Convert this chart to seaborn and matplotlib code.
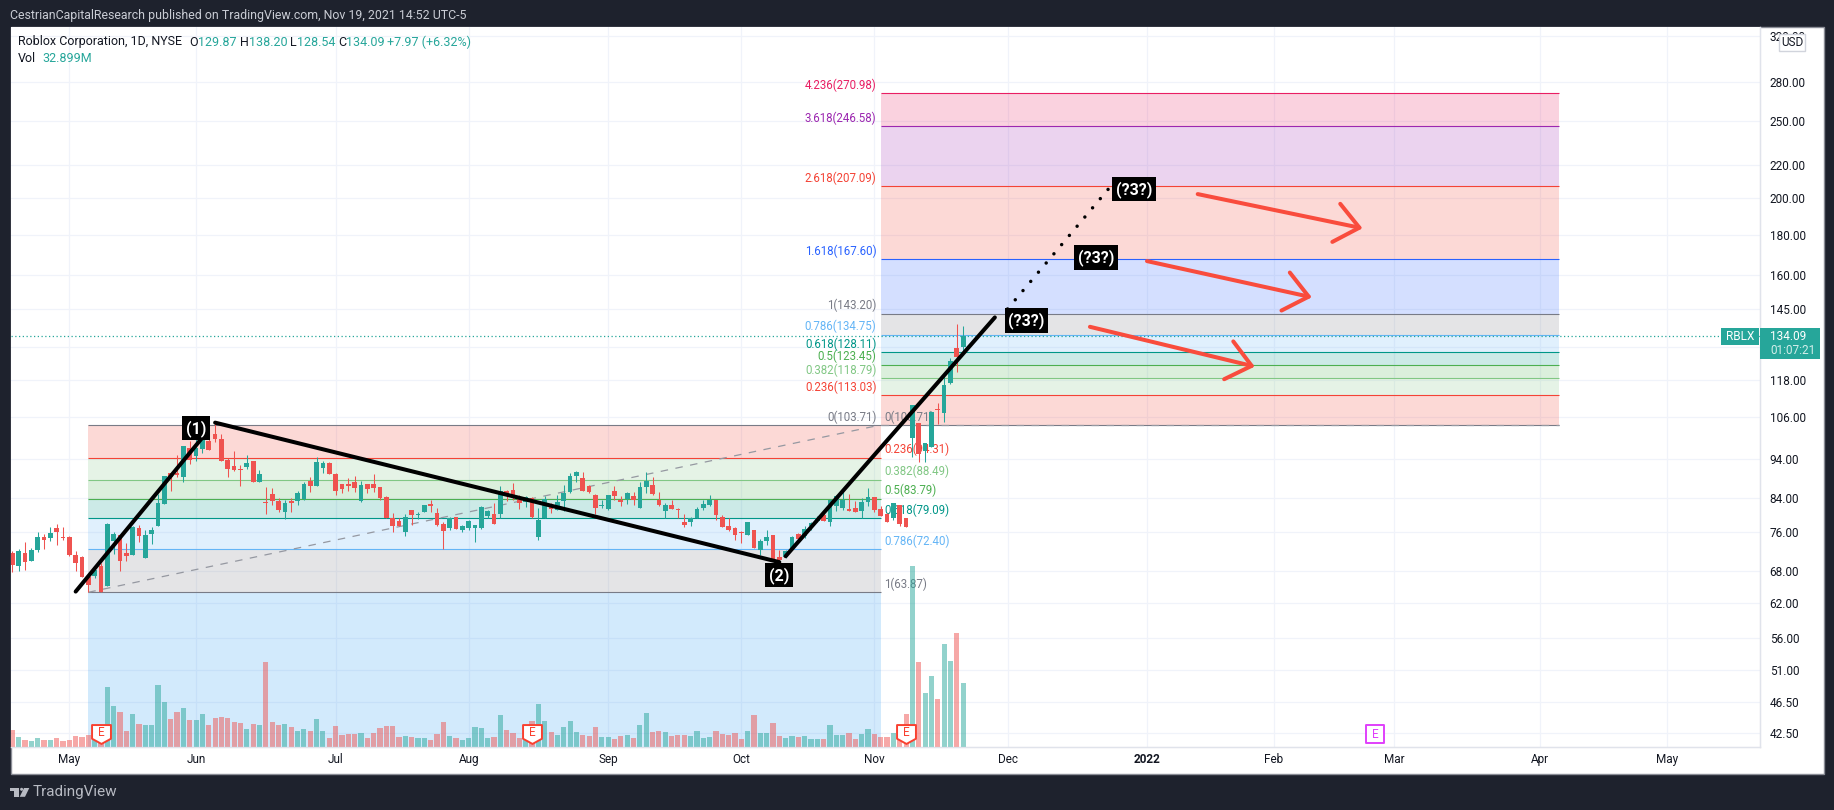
# %%
import numpy as np
import pandas as pd
import seaborn as sns
import matplotlib.pyplot as plt
from matplotlib.patches import Rectangle, Circle, Polygon
from matplotlib.path import Path
from matplotlib.ticker import NullLocator

sns.set_theme(style="white")
plt.rcParams["font.family"] = ["Roboto", "DejaVu Sans"]

# %% daily candles, bar 0 is May 3 2021
first_bar = -9
opens = [71.6,68.9,71.6,70.0,72.1,75.0,74.8,77.0,75.0,
    75.0,71.2,70.7,66.7,67.0,69.0,65.0,74.2,75.5,71.5,
    71.1,77.0,70.5,75.7,77.4,82.5,90.1,90.1,89.2,97.1,
    94.9,96.8,98.9,101.0,99.6,93.7,92.1,91.3,91.9,93.4,
    87.8,83.0,85.0,83.2,80.7,83.3,83.3,83.6,88.2,87.0,
    91.6,92.9,89.9,87.4,87.4,87.9,83.3,87.4,87.4,86.6,
    84.2,79.3,78.6,76.0,81.0,79.8,80.6,82.5,80.3,77.9,
    77.0,79.4,76.4,77.0,77.0,77.0,79.7,80.1,80.1,85.7,
    85.9,84.1,82.9,83.9,75.0,79.2,81.7,81.1,83.1,85.3,
    89.5,88.9,87.0,84.7,81.9,81.2,85.6,83.5,83.8,84.5,
    81.6,86.6,87.2,83.5,80.9,82.3,81.4,78.3,78.3,79.2,
    81.6,82.2,83.5,79.4,77.4,76.9,76.0,75.5,76.4,72.1,
    74.2,75.3,70.8,70.7,72.2,75.7,75.1,77.4,78.6,79.8,
    78.2,81.9,81.6,81.3,81.6,80.9,82.9,84.1,81.3,80.1,
    79.3,82.2,79.2,99.8,104.2,96.1,97.4,108.6,107.3,117.2,
    129.5,129.87]
highs = [72.0,72.3,73.9,72.6,76.1,75.6,77.2,77.9,77.2,
    75.2,71.9,70.9,67.2,68.5,69.5,78.0,76.1,75.5,73.7,
    77.3,77.7,76.6,77.2,84.9,89.5,90.3,95.0,97.6,99.1,
    100.0,103.4,102.2,104.4,101.0,94.1,96.1,92.3,95.0,93.4,
    91.0,86.6,86.4,83.9,83.5,83.9,85.6,87.9,89.1,94.4,
    93.4,93.2,90.1,87.4,88.9,89.5,88.1,87.4,89.9,86.6,
    84.5,80.3,79.2,80.1,81.1,80.7,82.3,83.5,81.5,78.4,
    79.4,79.4,77.7,78.8,77.7,82.1,81.1,82.7,86.9,85.9,
    87.6,84.7,84.5,84.1,81.5,84.5,82.7,84.6,87.1,90.1,
    90.8,90.6,87.1,84.8,83.5,84.7,86.9,84.3,85.5,85.3,
    87.8,90.4,89.3,85.4,82.7,83.5,81.6,80.1,79.4,81.7,
    83.5,84.7,83.5,79.8,79.2,77.2,76.2,78.2,76.6,74.6,
    76.6,75.5,72.1,72.1,75.1,75.9,77.3,78.4,79.6,80.3,
    83.7,84.7,85.5,85.0,83.2,83.9,86.3,84.2,82.1,80.3,
    82.7,82.3,79.2,109.9,104.4,98.3,108.1,110.4,120.4,125.8,
    138.9,138.2]
lows = [67.7,67.9,68.1,69.9,71.7,72.5,74.0,73.2,74.3,
    70.9,67.9,66.7,63.9,66.5,63.9,65.0,71.4,67.9,69.9,
    71.1,73.8,70.5,73.4,77.4,82.5,85.6,89.1,87.8,92.7,
    93.4,95.7,96.4,98.8,93.5,89.2,90.8,87.0,91.4,87.8,
    87.8,80.2,82.3,80.5,79.0,80.7,82.3,83.5,85.3,87.0,
    90.1,89.9,84.6,85.1,85.7,85.5,83.0,85.1,85.3,83.5,
    79.2,76.0,77.3,75.1,77.7,79.0,80.5,80.7,77.4,72.3,
    76.4,76.8,76.1,76.4,73.8,76.8,79.2,77.9,79.2,83.1,
    83.5,81.3,81.7,79.2,74.3,79.1,80.3,81.1,80.9,85.1,
    88.0,85.6,85.1,80.1,81.5,81.1,83.5,81.9,82.5,82.3,
    81.6,85.1,84.6,81.9,79.2,81.3,79.2,77.1,77.3,79.1,
    81.1,82.1,78.8,77.1,76.2,74.4,73.6,75.3,72.6,71.2,
    73.3,70.2,69.9,70.5,72.1,74.4,74.8,76.6,78.2,78.6,
    77.3,80.9,81.1,80.9,80.7,79.2,81.9,80.7,79.6,78.4,
    78.8,77.3,77.1,94.6,93.2,93.2,97.2,103.9,104.5,116.8,
    121.0,128.54]
closes = [69.2,72.0,69.8,72.1,75.0,74.4,75.9,76.1,74.7,
    71.1,69.6,66.7,65.2,68.2,64.0,77.9,75.7,69.9,71.0,
    77.2,75.1,75.5,76.6,82.8,89.5,89.2,89.8,97.6,93.8,
    97.0,100.0,96.4,99.5,93.5,91.4,91.0,91.1,92.8,87.8,
    89.9,82.6,83.1,81.1,82.8,82.6,85.2,87.4,87.0,93.2,
    92.8,90.0,85.7,86.1,86.9,86.5,87.2,86.1,86.5,83.9,
    79.3,77.3,77.5,79.5,79.9,80.1,82.2,81.9,77.7,76.2,
    79.1,76.8,77.3,78.5,77.6,81.8,80.9,77.9,85.6,84.3,
    84.6,82.7,84.1,79.5,78.8,83.7,81.3,82.9,85.2,89.5,
    90.4,85.7,85.4,81.6,82.3,84.7,84.3,82.9,85.1,83.5,
    86.6,88.1,84.8,82.3,82.3,81.4,81.1,77.7,79.1,81.3,
    82.5,83.5,79.9,77.1,76.4,75.5,75.8,78.2,72.6,74.0,
    75.0,70.4,70.2,71.9,75.0,74.5,76.8,78.0,79.3,78.6,
    83.5,84.3,83.5,80.9,80.7,83.0,84.2,81.1,79.6,78.4,
    82.6,77.9,77.1,109.9,95.2,98.3,107.7,108.2,116.4,124.8,
    126.12,134.09]
volumes = [8.9,5.3,3.8,3.2,4.8,3.8,3.8,4.8,3.2,
    3.8,5.8,5.3,6.3,3.8,4.6,30.9,21.1,18.1,8.4,
    17.1,11.9,11.4,11.4,31.9,23.2,14.5,18.1,20.1,14.0,
    14.0,17.1,11.4,15.0,15.5,15.0,13.0,12.4,9.4,11.9,
    11.4,43.6,13.0,11.4,11.9,10.4,8.4,9.4,8.4,14.5,
    8.4,4.8,10.9,6.3,6.8,6.8,7.3,4.8,7.3,9.9,
    10.9,10.9,5.3,5.8,5.3,4.8,4.8,3.8,6.8,13.0,
    5.8,4.8,3.8,4.8,10.4,9.9,4.8,5.3,16.5,8.9,
    7.3,4.8,3.8,13.5,22.2,13.5,7.8,6.3,10.4,13.5,
    7.8,6.3,5.8,10.4,5.3,5.3,4.3,5.8,6.3,4.8,
    11.4,17.6,7.8,8.4,7.8,5.8,6.3,6.3,5.8,8.4,
    4.8,5.3,8.4,6.8,6.3,7.3,4.3,8.4,16.5,7.3,
    7.3,12.4,5.8,4.8,5.8,5.3,5.8,4.3,4.3,4.3,
    11.4,6.3,6.3,7.3,4.3,6.8,9.4,6.8,5.3,5.3,
    7.3,5.8,17.1,92.4,43.6,27.8,36.5,24.7,52.9,44.2,
    58.5,32.9]

# %% axis ticks
price_ticks = [320, 280, 250, 220, 200, 180, 160, 145, 130, 118, 106, 94, 84, 76, 68, 62, 56, 51, 46.5, 42.5]
hidden_price_tick = 130  # sits behind the last price tag, only its grid line shows
month_bars = [0, 20, 42, 63, 85, 106, 127, 148, 170, 190, 209, 232, 252]
month_labels = ["May", "Jun", "Jul", "Aug", "Sep", "Oct", "Nov", "Dec", "2022", "Feb", "Mar", "Apr", "May"]

# %% fib retracements
fib1_start, fib1_end = 3, 128
fib1_ratios = ["0", "0.236", "0.382", "0.5", "0.618", "0.786", "1"]
fib1_prices = [103.71, 94.31, 88.49, 83.79, 79.09, 72.40, 63.87]
fib1_colors = ["#787b86", "#f44336", "#81c784", "#4caf50", "#009688", "#64b5f6", "#787b86"]

fib2_start, fib2_end = 128, 235
fib2_ratios = ["0", "0.236", "0.382", "0.5", "0.618", "0.786", "1", "1.618", "2.618", "3.618", "4.236"]
fib2_prices = [103.71, 113.03, 118.79, 123.45, 128.11, 134.75, 143.20, 167.60, 207.09, 246.58, 270.98]
fib2_colors = ["#787b86", "#f44336", "#81c784", "#4caf50", "#009688", "#64b5f6", "#787b86",
               "#2962ff", "#f44336", "#9c27b0", "#e91e63"]

# %% drawings on top of the chart
wave_bars = [1, 21, 23, 112, 113, 146]
wave_prices = [64.0, 100.0, 104.4, 69.7, 70.9, 141.6]
dotted_bars = [148, 164]
dotted_prices = [145.1, 205.8]
wave_label_text = ["(1)", "(2)", "(?3?)", "(?3?)", "(?3?)"]
wave_label_bars = [20, 112, 151, 162, 168]
wave_label_prices = [102.7, 67.1, 140.3, 168.5, 205.2]
arrow_bars = [(161, 187), (170, 196), (178, 204)]
arrow_prices = [(137.8, 122.8), (166.7, 150.1), (202.4, 183.3)]
earnings_bars = [5, 73, 132]
next_earnings_bar = 206

UP = "#26a69a"
DOWN = "#ef5350"
DARK = "#1e222d"
GRID = "#f0f3fa"
AXIS_LINE = "#e0e3eb"
TEXT = "#131722"
ARROW = "#f94c3d"

df = pd.DataFrame({"open": opens, "high": highs, "low": lows, "close": closes, "volume": volumes})
df["bar"] = np.arange(first_bar, first_bar + len(df))
df["direction"] = np.where(df["close"] >= df["open"], "up", "down")
palette = {"up": UP, "down": DOWN}

# %% page and panel, in pixels
W, H = 1834, 810
fig = plt.figure(figsize=(W / 100, H / 100), dpi=100, facecolor=DARK)

under = fig.add_axes([0, 0, 1, 1], zorder=-1)
under.set_xlim(0, W)
under.set_ylim(H, 0)
under.axis("off")
under.add_patch(Rectangle((10.5, 27), 1813, 747, fc="white", ec="#8a8d96", lw=1))

ax = fig.add_axes([11 / W, (H - 747) / H, 1749 / W, 720 / H], zorder=1)
ax.set_yscale("log")

# %% fib zones
def draw_fib(x0, x1, prices, colors):
    for i, (price, color) in enumerate(zip(prices, colors)):
        ax.plot([x0, x1], [price, price], color=color, lw=0.8, zorder=2, solid_capstyle="butt")
        if i + 1 < len(prices):
            ax.fill_between([x0, x1], price, prices[i + 1], color=colors[i + 1], alpha=0.2, lw=0, zorder=1.5)

draw_fib(fib1_start, fib1_end, fib1_prices, fib1_colors)
draw_fib(fib2_start, fib2_end, fib2_prices, fib2_colors)
# first fib's next zone runs off the bottom of the pane
ax.fill_between([fib1_start, fib1_end], fib1_prices[-1], 40.8, color="#2196f3", alpha=0.2, lw=0, zorder=1.5)
ax.plot([fib1_start, fib1_end], [fib1_prices[-1], fib1_prices[0]], color="#9598a1", lw=0.9, ls=(0, (6, 6)), zorder=2)
ax.plot([fib2_start, fib2_end], [fib2_prices[0], fib2_prices[0]], color="#9598a1", lw=0.9, ls=(0, (6, 6)), zorder=2)

for ratio, price, color in zip(fib1_ratios, fib1_prices, fib1_colors):
    ax.annotate(f"{ratio}({price:.2f})", (fib1_end, price), xytext=(2.5, 1), textcoords="offset points",
                ha="left", va="bottom", fontsize=8.3, color=color, zorder=3)
for ratio, price, color in zip(fib2_ratios, fib2_prices, fib2_colors):
    ax.annotate(f"{ratio}({price:.2f})", (fib2_start, price), xytext=(-3, 1), textcoords="offset points",
                ha="right", va="bottom", fontsize=8.3, color=color, zorder=3)

# %% candles
ax.axhline(closes[-1], color=UP, lw=0.9, ls=(0, (1, 2)), zorder=2.5)
colors = df["direction"].map(palette)
ax.vlines(df["bar"], df["low"], df["high"], colors=colors, lw=0.75, zorder=4)
ax.bar(df["bar"], (df["close"] - df["open"]).abs(), bottom=df[["open", "close"]].min(axis=1),
       width=0.74, color=colors, lw=0, zorder=4)

# %% trend lines, labels, arrows
for i in range(0, len(wave_bars), 2):
    ax.plot(wave_bars[i:i + 2], wave_prices[i:i + 2], color="black", lw=2.9, solid_capstyle="round", zorder=5)
ax.plot(dotted_bars, dotted_prices, color="black", lw=2.5, ls=(0, (0.01, 3.45)), dash_capstyle="round", zorder=5)

for text, x, y in zip(wave_label_text, wave_label_bars, wave_label_prices):
    ax.text(x, y, text, color="white", fontsize=11.5, fontweight="bold", ha="center", va="center", zorder=6,
            bbox=dict(fc="black", ec="none", pad=2.6))

for xs, ys in zip(arrow_bars, arrow_prices):
    ax.annotate("", xy=(xs[1], ys[1]), xytext=(xs[0], ys[0]), zorder=6,
                arrowprops=dict(arrowstyle="->,head_length=1.7,head_width=1.4", color=ARROW, lw=2.9,
                                shrinkA=0, shrinkB=0, mutation_scale=10))

# %% volume pane shares the panel, 720 px tall
ax_vol = ax.twinx()
sns.barplot(data=df, x="bar", y="volume", hue="direction", palette=palette, native_scale=True, dodge=False,
            width=0.82, alpha=0.5, saturation=1, linewidth=0, legend=False, ax=ax_vol)
ax_vol.set_ylim(0, 368.3)
ax_vol.set_yticks([])
ax_vol.set_xlabel("")
ax_vol.set_ylabel("")

# %% earnings flags
flag_y = ax_vol.get_xaxis_transform()
shield = Path([(-1, 1), (1, 1), (1, -0.45), (0, -1), (-1, -0.45), (-1, 1)], closed=True)
for bar in earnings_bars:
    ax_vol.scatter([bar], [0.018], marker=shield, s=185, transform=flag_y, fc="white", ec="#f9402f", lw=1.4,
                   zorder=7, clip_on=False)
    ax_vol.text(bar, 0.02, "E", transform=flag_y, ha="center", va="center", color="#f9402f", fontsize=8.5, zorder=8)
ax_vol.scatter([next_earnings_bar], [0.018], marker="s", s=150, transform=flag_y, fc="white", ec="#e040fb", lw=1.4, zorder=7)
ax_vol.text(next_earnings_bar, 0.018, "E", transform=flag_y, ha="center", va="center", color="#e040fb", fontsize=8.5, zorder=8)

# %% axes
ax.set_xlim(-9.2, 266.7)
ax.set_ylim(40.8, 328.4)
ax.yaxis.tick_right()
ax.set_yticks(price_ticks)
ax.set_yticklabels(["" if p == hidden_price_tick else f"{p:.2f}" for p in price_ticks])
ax.yaxis.set_minor_locator(NullLocator())
ax.set_xticks(month_bars)
ax.set_xticklabels(month_labels)
ax.get_xticklabels()[month_labels.index("2022")].set_fontweight("bold")
ax.tick_params(axis="y", length=0, pad=7, labelsize=8.5, labelcolor=TEXT)
ax.tick_params(axis="x", length=0, pad=4, labelsize=8.5, labelcolor=TEXT)
ax.grid(True, color=GRID, lw=0.9)
ax.set_axisbelow(True)
ax_vol.grid(False)
for axes in (ax, ax_vol):
    for side, spine in axes.spines.items():
        spine.set_visible(side in ("right", "bottom"))
        spine.set_color(AXIS_LINE)
        spine.set_linewidth(0.9)

# %% header, footer, price tags
over = fig.add_axes([0, 0, 1, 1], zorder=5, facecolor="none")
over.set_xlim(0, W)
over.set_ylim(H, 0)
over.axis("off")

over.text(10, 15, "CestrianCapitalResearch published on TradingView.com, Nov 19, 2021 14:52 UTC-5",
          color="#c9ccd4", fontsize=8.95, va="center")

legend_parts = [(18, "Roblox Corporation, 1D, NYSE", TEXT), (189, "O", TEXT), (198, "129.87", UP), (240, "H", TEXT),
                (249, "138.20", UP), (290, "L", TEXT), (297, "128.54", UP), (338, "C", TEXT), (346, "134.09", UP),
                (387, "+7.97 (+6.32%)", UP)]
for x, text, color in legend_parts:
    over.text(x, 42, text, color=color, fontsize=9, va="center")
over.text(18, 59, "Vol", color=TEXT, fontsize=9, va="center")
over.text(42, 59, "32.899M", color=UP, fontsize=9, va="center")

# USD button
over.add_patch(Rectangle((1779, 34), 26, 17, fc="white", ec="#d1d4dc", lw=1))
over.text(1792, 42, "USD", color=TEXT, fontsize=8.5, ha="center", va="center")

# last price tags
over.add_patch(Rectangle((1721, 328), 38, 17, fc=UP, ec="none"))
over.text(1740, 336.5, "RBLX", color="white", fontsize=8.5, ha="center", va="center")
over.add_patch(Rectangle((1760, 328), 60, 31, fc=UP, ec="none"))
over.text(1770, 336.5, f"{closes[-1]:.2f}", color="white", fontsize=8.5, va="center")
over.text(1770, 351, "01:07:21", color="#d3eeea", fontsize=8.5, va="center")

# TradingView mark
logo = "#b8bbc3"
over.add_patch(Rectangle((10, 788), 8.7, 2.6, fc=logo, ec="none"))
over.add_patch(Rectangle((14.3, 790), 4.4, 6.8, fc=logo, ec="none"))
over.add_patch(Circle((21.6, 789.3), 1.5, fc=logo, ec="none"))
over.add_patch(Polygon([(24, 788), (29.3, 788), (25, 796.8), (19.7, 796.8)], fc=logo, ec="none"))
over.text(33, 792, "TradingView", color=logo, fontsize=11, va="center")

fig.savefig("out.png", dpi=100)
